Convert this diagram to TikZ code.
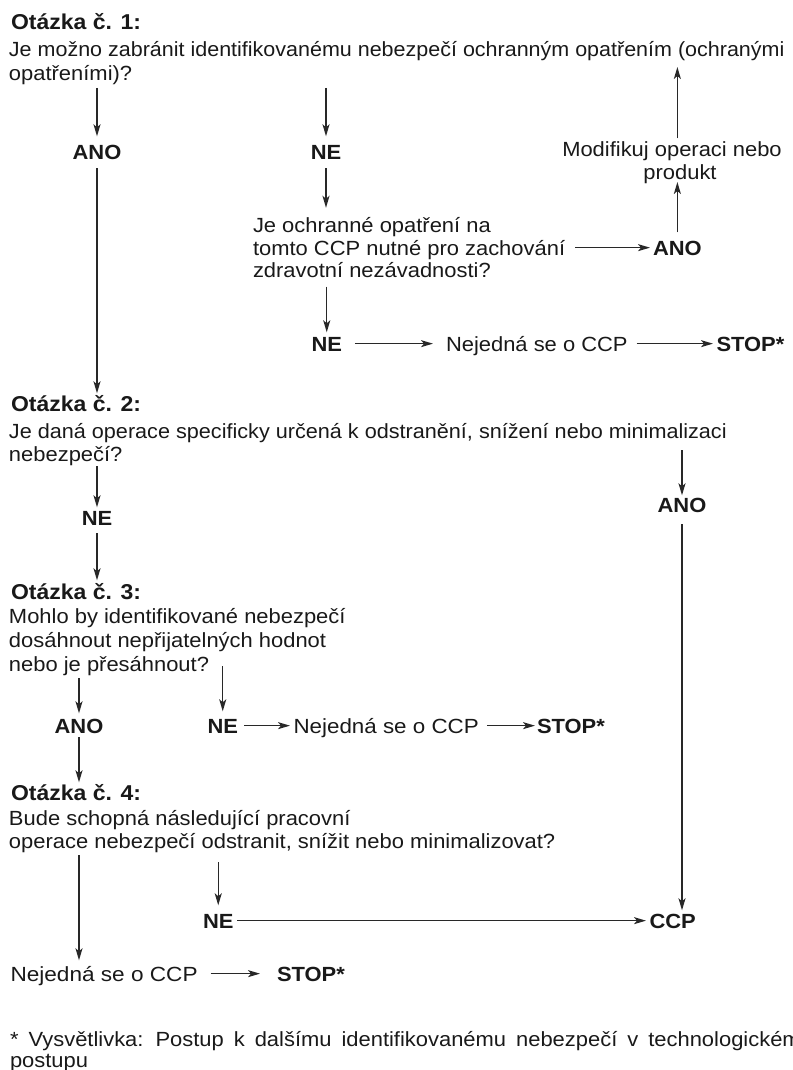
\documentclass[tikz,border=0pt]{standalone}
\usepackage{fontspec}
\usepackage{graphicx}
\setmainfont[FakeStretch=1.07]{Liberation Sans}
\usetikzlibrary{arrows.meta}
\definecolor{ink}{RGB}{25,25,25}
\definecolor{lin}{RGB}{40,40,40}
\newcommand{\sqx}[2]{\scalebox{#1}[1]{#2}}
\begin{document}
\begin{tikzpicture}[x=1pt,y=-1pt,
  every node/.style={inner sep=0pt, outer sep=0pt, text=ink, font=\fontsize{20.5}{24}\selectfont, text height=14.7pt, text depth=0pt},
  txt/.style={anchor=base west},
  bld/.style={font=\fontsize{20.5}{24}\selectfont\bfseries},
  hd/.style={anchor=base west, font=\fontsize{21.5}{24}\selectfont\bfseries},
  arr/.style={draw=lin, line width=1.45pt, -{Stealth[length=12pt,width=7pt,inset=3pt]}},
]
\useasboundingbox (0,0) rectangle (792,1070);
% Question 1
\node[hd] (h1) at (11,30) {Otázka č. 1:};
\node[txt] (q1a) at (9,57) {\sqx{0.98}{Je možno zabránit identifikovanému nebezpečí ochranným opatřením (ochranými}};
\node[txt] (q1b) at (9,81) {opatřeními)?};
\node[bld, anchor=base] (ano1) at (97,159) {ANO};
\node[bld, anchor=base] (ne1) at (326,159) {NE};
\node[anchor=base] (mod1) at (672,157) {Modifikuj operaci nebo};
\node[anchor=base] (mod2) at (680,179) {produkt};
\node[txt] (q1n1) at (253,232.5) {Je ochranné opatření na};
\node[txt] (q1n2) at (253,255) {tomto CCP nutné pro zachování};
\node[txt] (q1n3) at (253,277.5) {zdravotní nezávadnosti?};
\node[bld, txt] (ano2) at (653,255) {ANO};
\node[bld, txt] (ne2) at (311.5,351) {NE};
\node[txt] (nn2) at (446,351) {Nejedná se o CCP};
\node[bld, txt] (stop2) at (716.5,351) {STOP*};
% Question 2
\node[hd] (h2) at (11,411) {Otázka č. 2:};
\node[txt] (q2a) at (9,438) {\sqx{0.986}{Je daná operace specificky určená k odstranění, snížení nebo minimalizaci}};
\node[txt] (q2b) at (9,461) {nebezpečí?};
\node[bld, anchor=base] (ano3) at (682,512) {ANO};
\node[bld, anchor=base] (ne3) at (97,525) {NE};
% Question 3
\node[hd] (h3) at (11,599) {Otázka č. 3:};
\node[txt] (q3a) at (9,623) {Mohlo by identifikované nebezpečí};
\node[txt] (q3b) at (9,647) {dosáhnout nepřijatelných hodnot};
\node[txt] (q3c) at (9,671) {nebo je přesáhnout?};
\node[bld, anchor=base] (ano4) at (79,733) {ANO};
\node[bld, txt] (ne4) at (207.5,733) {NE};
\node[txt] (nn4) at (293.5,733) {\sqx{1.02}{Nejedná se o CCP}};
\node[bld, txt] (stop4) at (537,733) {STOP*};
% Question 4
\node[hd] (h4) at (11,800) {Otázka č. 4:};
\node[txt] (q4a) at (9,825) {Bude schopná následující pracovní};
\node[txt] (q4b) at (9,848) {operace nebezpečí odstranit, snížit nebo minimalizovat?};
\node[bld, txt] (ne5) at (203,928) {NE};
\node[bld, txt] (ccp) at (649.5,928) {CCP};
\node[txt] (nn5) at (10.5,981) {\sqx{1.03}{Nejedná se o CCP}};
\node[bld, txt] (stop5) at (277,981) {STOP*};
% Footnote
\node[txt] (fn1) at (10,1046) {\spaceskip=10pt\relax * Vysvětlivka: Postup k dalšímu identifikovanému nebezpečí v technologickém};
\node[txt] (fn2) at (10,1067) {postupu};
% Connectors
\draw[arr] ([yshift=-7pt]q1b.base -| ano1) -- ([yshift=8pt]ano1.north);
\draw[arr] ([yshift=-7pt]q1b.base -| ne1) -- ([yshift=8pt]ne1.north);
\draw[arr] ([yshift=-9pt]ne1.south) -- ([yshift=10pt]q1n1.north -| ne1);
\draw[arr] ([yshift=-9pt]ano1.south) -- ([yshift=3pt]h2.north -| ano1);
\draw[arr] ([yshift=-9pt]q1n3.base -| ne2) -- ([yshift=4pt]ne2.north);
\draw[arr] ([xshift=13pt]ne2.east) -- ([xshift=-13pt]nn2.west);
\draw[arr] ([xshift=9pt]nn2.east) -- ([xshift=-3.5pt]stop2.west);
\draw[arr] ([xshift=10pt]q1n2.east) -- ([xshift=-3pt]ano2.west);
\draw[arr] ([yshift=8pt]ano2.north) -- ([yshift=-3pt]mod2.base -| ano2);
\draw[arr] ([yshift=4pt]mod1.north -| ano2) -- ([yshift=-10pt]q1a.base -| ano2);
\draw[arr] ([yshift=-5pt]q2b.base -| ne3) -- ([yshift=3pt]ne3.north);
\draw[arr] ([yshift=-8pt]ne3.south) -- ([yshift=4pt]h3.north -| ne3);
\draw[arr] ([yshift=-12pt]q2a.base -| ano3) -- ([yshift=2pt]ano3.north);
\draw[arr] ([yshift=-12pt]ano3.south) -- ([yshift=3pt]ccp.north -| ano3);
\draw[arr] ([yshift=-7pt]q3c.base -| ano4) -- ([yshift=5pt]ano4.north);
\draw[arr] ([yshift=5pt]q3c.base -| ne4) -- ([yshift=7pt]ne4.north);
\draw[arr] ([yshift=-4pt]ano4.south) -- ([yshift=3pt]h4.north -| ano4);
\draw[arr] ([xshift=6.5pt]ne4.east) -- ([xshift=-3.5pt]nn4.west);
\draw[arr] ([xshift=8pt]nn4.east) -- ([xshift=-2pt]stop4.west);
\draw[arr] ([yshift=-7pt]q4b.base -| ano4) -- ([yshift=6pt]nn5.north -| ano4);
\draw[arr] ([yshift=-14pt]q4b.base -| ne5) -- ([yshift=8pt]ne5.north);
\draw[arr] ([xshift=4pt]ne5.east) -- ([xshift=-3.5pt]ccp.west);
\draw[arr] ([xshift=13pt]nn5.east) -- ([xshift=-17pt]stop5.west);
\end{tikzpicture}
\end{document}
